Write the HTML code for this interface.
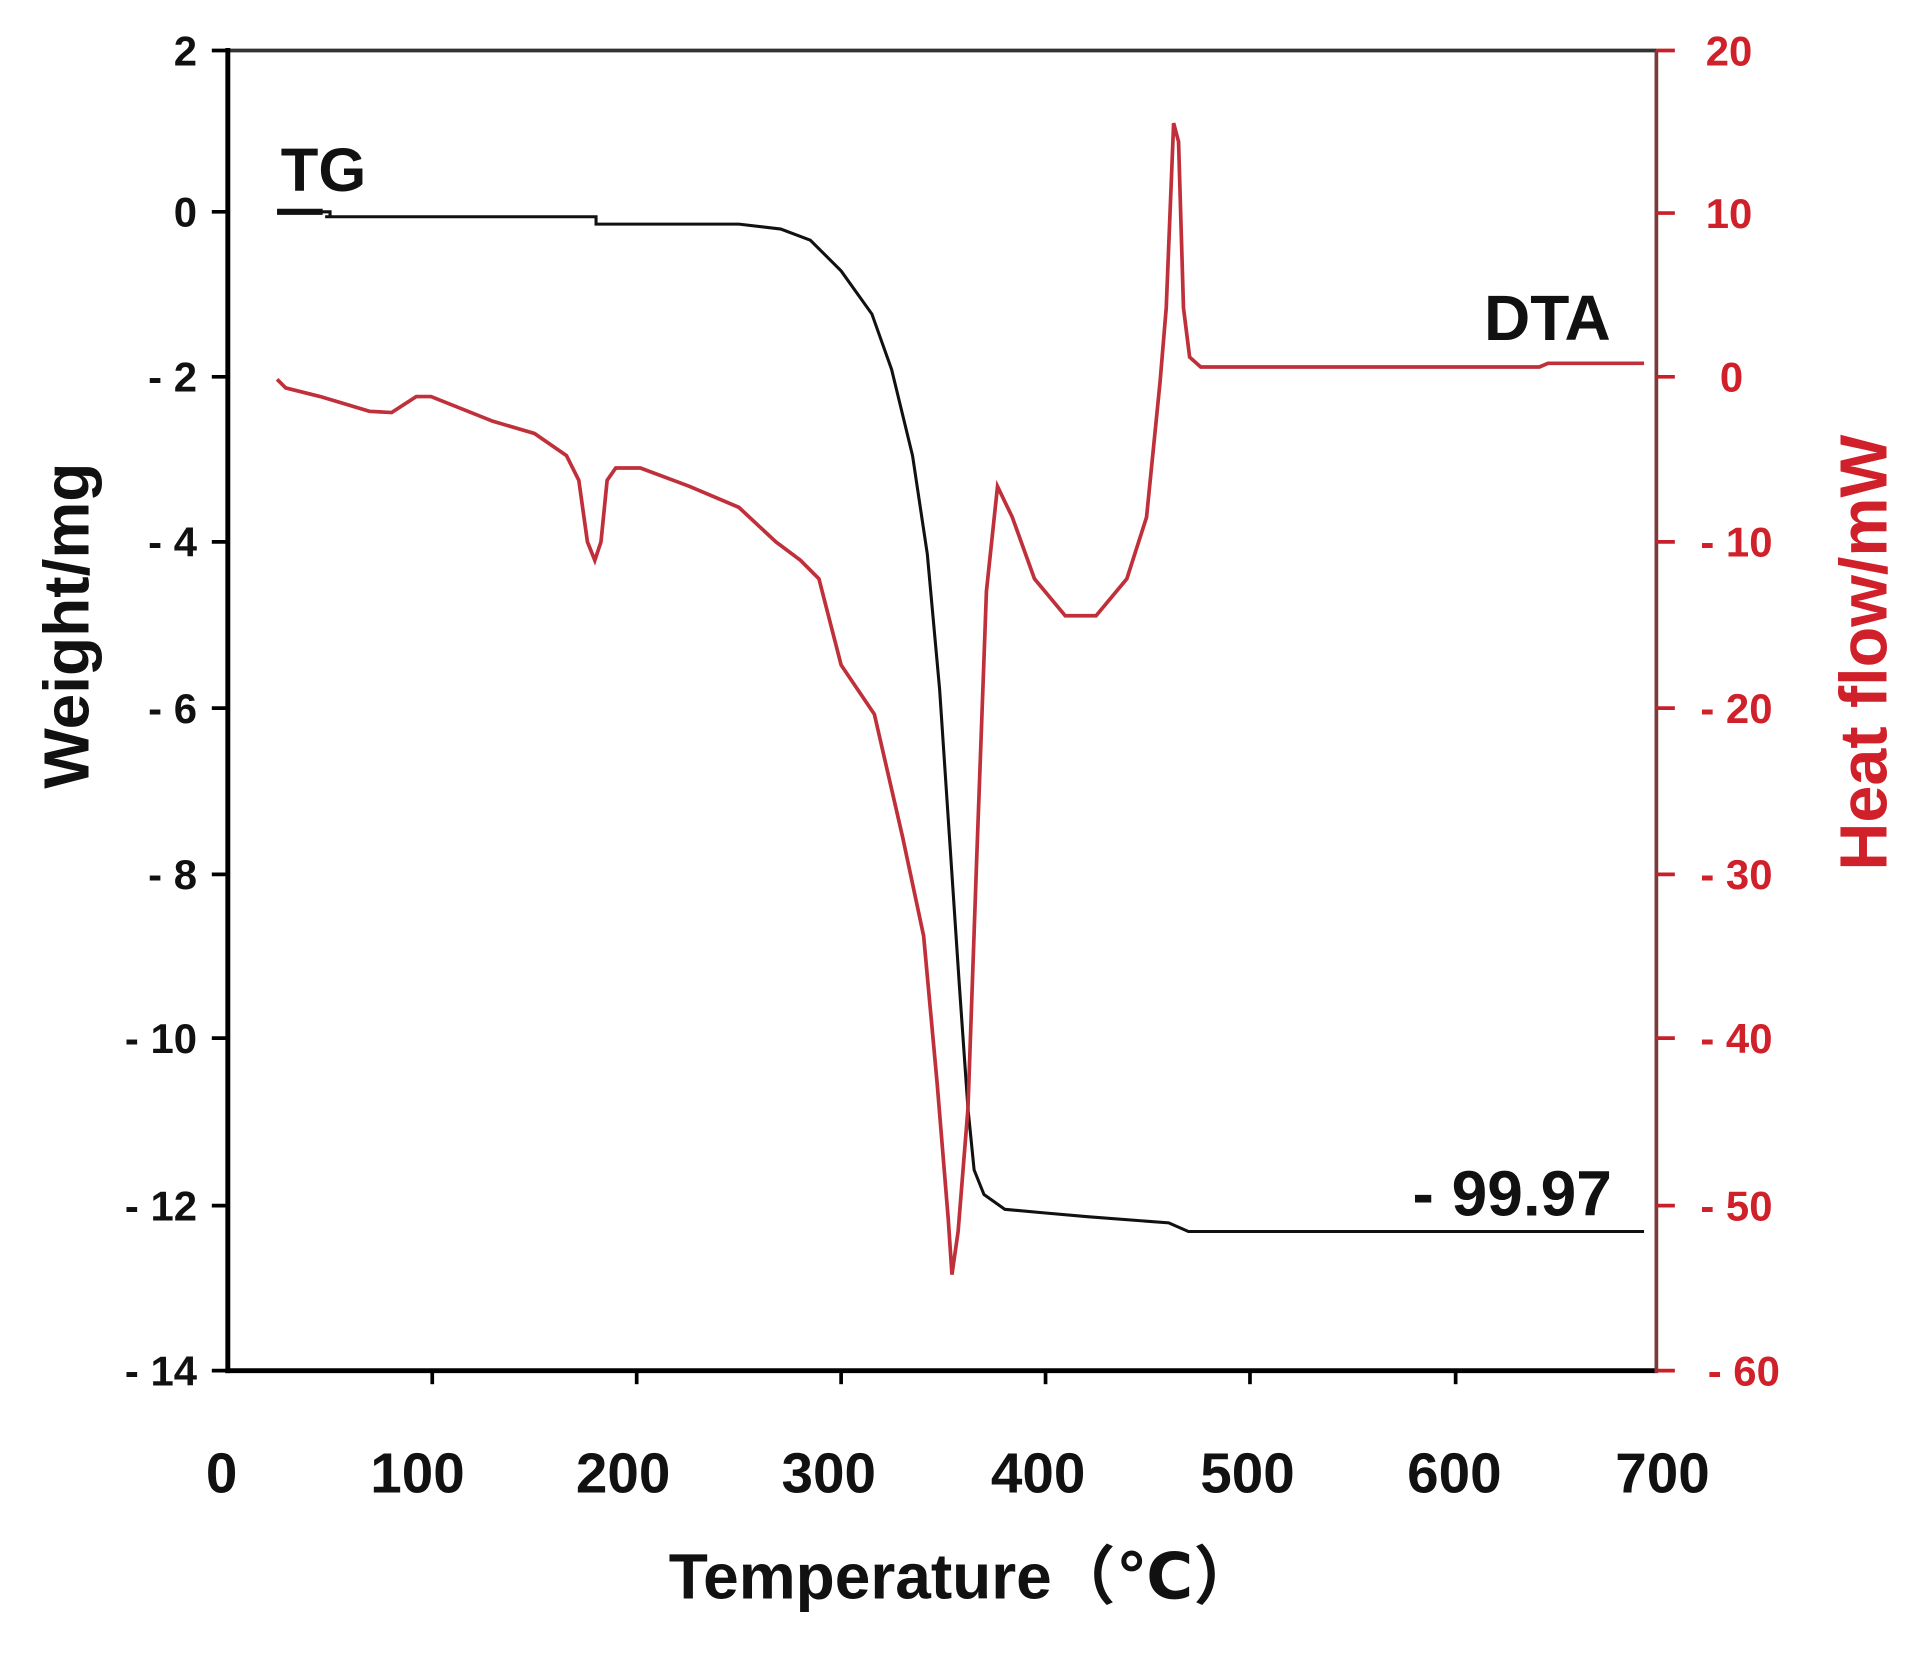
<!DOCTYPE html>
<html><head><meta charset="utf-8"><style>
html,body{margin:0;padding:0;background:#fff;}
svg{display:block;}
text{font-family:"Liberation Sans","DejaVu Sans","Noto Sans CJK SC",sans-serif;font-weight:bold;}
</style></head><body>
<svg width="1931" height="1664" viewBox="0 0 1568 1351.2" preserveAspectRatio="none" xmlns="http://www.w3.org/2000/svg">
<rect width="1568" height="1352" fill="#fff"/>
<line x1="185" y1="41" x2="1345" y2="41" stroke="#333" stroke-width="3"/>
<line x1="185" y1="39" x2="185" y2="1115" stroke="#000" stroke-width="4"/>
<line x1="183" y1="1113" x2="1345" y2="1113" stroke="#000" stroke-width="4"/>
<line x1="1345" y1="41" x2="1345" y2="1115" stroke="#7a3a3a" stroke-width="3"/>
<g stroke="#000" stroke-width="3">
<line x1="172" y1="41" x2="185" y2="41"/><line x1="172" y1="172" x2="185" y2="172"/><line x1="172" y1="306" x2="185" y2="306"/><line x1="172" y1="440" x2="185" y2="440"/><line x1="172" y1="575" x2="185" y2="575"/><line x1="172" y1="710" x2="185" y2="710"/><line x1="172" y1="843" x2="185" y2="843"/><line x1="172" y1="979" x2="185" y2="979"/><line x1="172" y1="1113" x2="185" y2="1113"/>
<line x1="351" y1="1113" x2="351" y2="1124"/><line x1="517" y1="1113" x2="517" y2="1124"/><line x1="683" y1="1113" x2="683" y2="1124"/><line x1="849" y1="1113" x2="849" y2="1124"/><line x1="1015" y1="1113" x2="1015" y2="1124"/><line x1="1182" y1="1113" x2="1182" y2="1124"/>
</g>
<g stroke="#c8202a" stroke-width="3">
<line x1="1345" y1="41" x2="1360" y2="41"/><line x1="1345" y1="173" x2="1360" y2="173"/><line x1="1345" y1="306" x2="1360" y2="306"/><line x1="1345" y1="440" x2="1360" y2="440"/><line x1="1345" y1="575" x2="1360" y2="575"/><line x1="1345" y1="710" x2="1360" y2="710"/><line x1="1345" y1="843" x2="1360" y2="843"/><line x1="1345" y1="979" x2="1360" y2="979"/><line x1="1345" y1="1113" x2="1360" y2="1113"/>
</g>
<g font-size="34" text-anchor="end" fill="#111">
<text x="160" y="53">2</text><text x="160" y="184">0</text><text x="160" y="318">- 2</text><text x="160" y="452">- 4</text><text x="160" y="587">- 6</text><text x="160" y="722">- 8</text><text x="160" y="855">- 10</text><text x="160" y="991">- 12</text><text x="160" y="1125">- 14</text>
</g>
<g font-size="34" text-anchor="middle" fill="#d0202a">
<text x="1404" y="53">20</text><text x="1404" y="185">10</text><text x="1406" y="318">0</text><text x="1410" y="452">- 10</text><text x="1410" y="587">- 20</text><text x="1410" y="722">- 30</text><text x="1410" y="855">- 40</text><text x="1410" y="991">- 50</text><text x="1416" y="1125">- 60</text>
</g>
<g font-size="46" text-anchor="middle" fill="#111">
<text x="180" y="1212">0</text><text x="339" y="1212">100</text><text x="506" y="1212">200</text><text x="673" y="1212">300</text><text x="843" y="1212">400</text><text x="1013" y="1212">500</text><text x="1181" y="1212">600</text><text x="1350" y="1212">700</text>
</g>
<text x="782" y="1298" font-size="52" text-anchor="middle" fill="#111">Temperature（℃）</text>
<text transform="translate(72,508) rotate(-90)" font-size="52" text-anchor="middle" fill="#111">Weight/mg</text>
<text transform="translate(1532,530) rotate(-90)" font-size="54" text-anchor="middle" fill="#d0202a">Heat flow/mW</text>
<text x="228" y="155" font-size="50" fill="#111">TG</text>
<text x="1205" y="276" font-size="52" fill="#111">DTA</text>
<text x="1147" y="987" font-size="52" fill="#111">- 99.97</text>
<polyline fill="none" stroke="#111" stroke-width="2.5" points="
225,172 268,172 268,176 264,176 330,176 484,176 484,182 600,182 634,186 658,195 683,220 708,255 724,300 741,370 753,450 763,560 771,680 779,800 786,900 791,950 799,970 816,982 849,985 883,988 949,993 965,1000 1335,1000"/>
<line x1="225" y1="172" x2="262" y2="172" stroke="#111" stroke-width="5"/>
<polyline fill="none" stroke="#c0303a" stroke-width="3" points="
225,308 232,315 260,322 300,334 318,335 338,322 350,322 400,342 434,352 460,370 470,390 477,440 483,455 488,440 493,390 500,380 520,380 560,395 600,412 630,440 650,455 665,470 683,540 710,580 733,680 750,760 761,880 770,990 773,1035 778,1000 786,900 793,700 801,480 810,395 822,420 840,470 865,500 890,500 915,470 931,420 942,310 947,250 953,100 957,115 961,250 966,290 975,298 1050,298 1100,298 1250,298 1257,295 1335,295"/>
</svg>
</body></html>
